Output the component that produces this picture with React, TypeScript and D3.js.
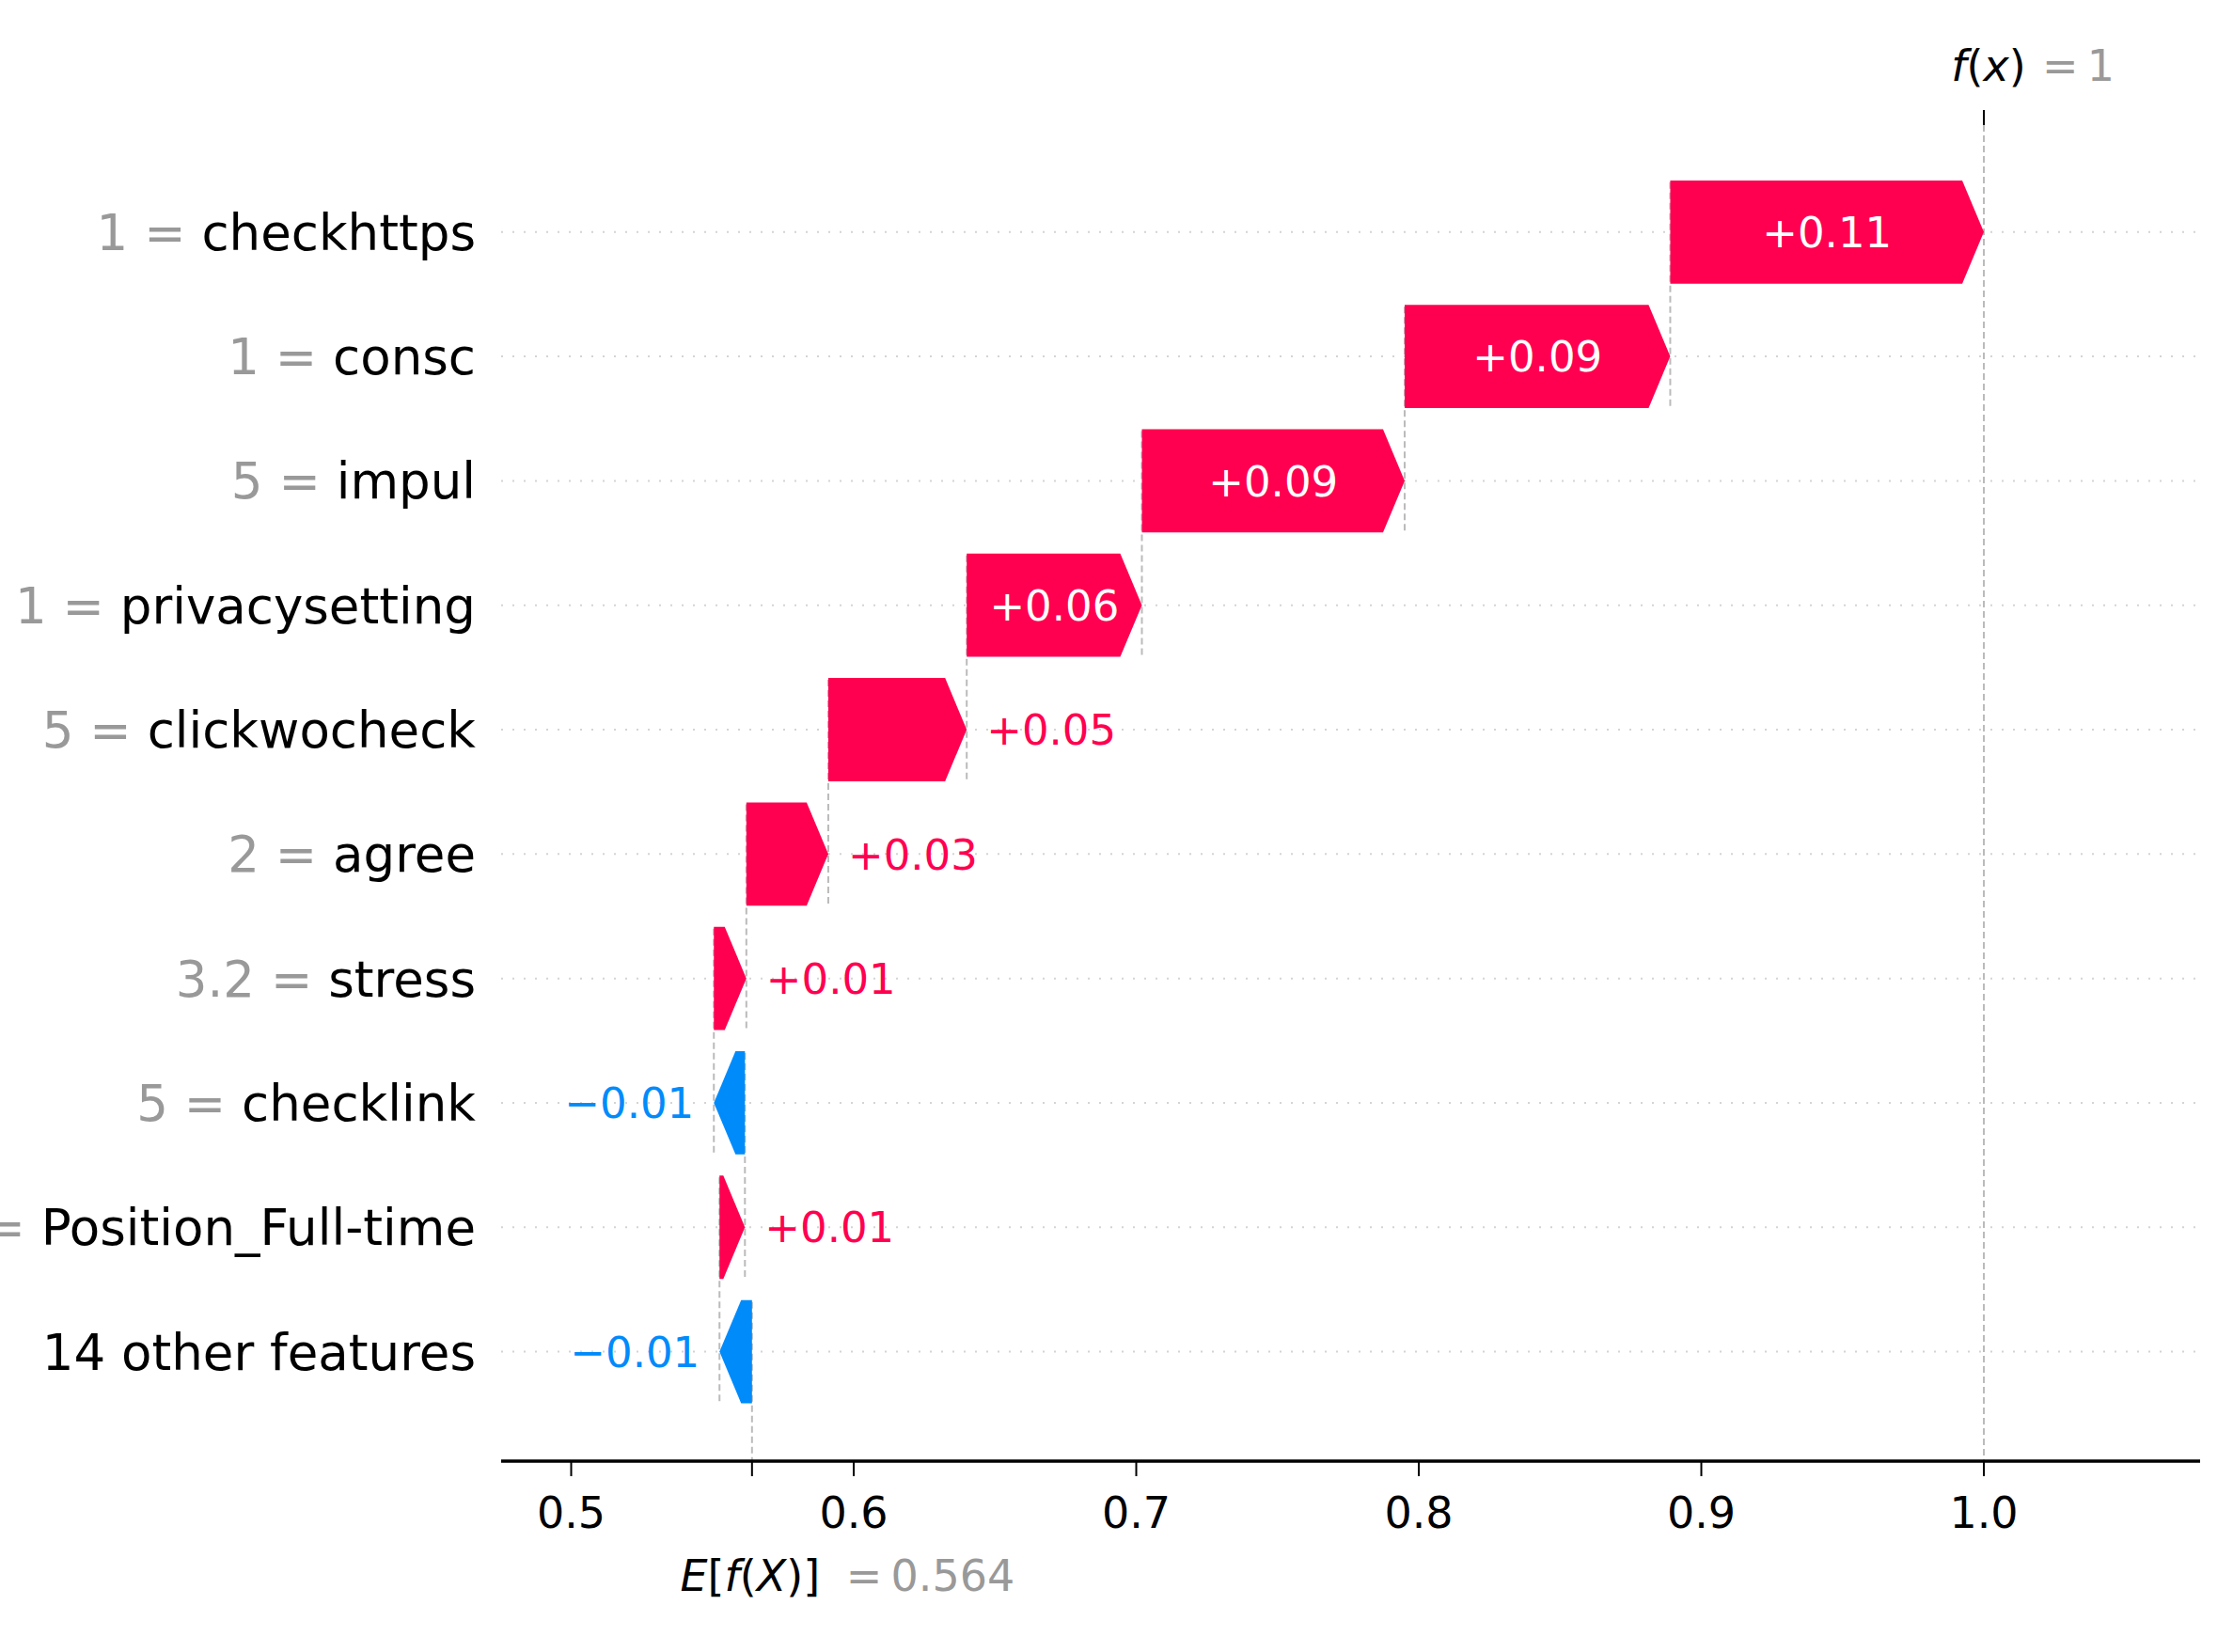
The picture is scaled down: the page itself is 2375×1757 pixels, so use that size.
import React from "react";
import * as d3 from "d3";

// rows from top to bottom
const featureValues = ["1", "1", "5", "1", "5", "2", "3.2", "5", "1", ""];
const featureNames = [
  "checkhttps",
  "consc",
  "impul",
  "privacysetting",
  "clickwocheck",
  "agree",
  "stress",
  "checklink",
  "Position_Full-time",
  "14 other features",
];
const shapValues = [0.111, 0.094, 0.093, 0.062, 0.049, 0.029, 0.0115, -0.011, 0.009, -0.0115];
const baseValue = 0.564;
const xTicks = [0.5, 0.6, 0.7, 0.8, 0.9, 1.0];

const RED = "#ff0051";
const BLUE = "#008bfb";
const FONT = "DejaVu Sans, sans-serif";

const W = 2375;
const H = 1757;

export default function App() {
  const n = featureNames.length;
  // axis spans 533..2340 px, 0.5 -> 607.5, 1.0 -> 2110
  const x = d3.scaleLinear().domain([0.5, 1.0]).range([607.5, 2110]);
  const axisL = 533;
  const axisR = 2340;
  const y = d3.scaleLinear().domain([-0.86, n - 1 + 0.88]).range([133, 1554]);
  const yBottom = y.range()[1];
  const yTop = y.range()[0];
  const rowH = y(1) - y(0);
  const barH = rowH * 0.83;
  const headLen = 23;

  // waterfall: accumulate from the bottom row up
  const starts: number[] = new Array(n);
  const ends: number[] = new Array(n);
  let loc = baseValue;
  for (let i = n - 1; i >= 0; i--) {
    starts[i] = loc;
    ends[i] = loc + shapValues[i];
    loc = ends[i];
  }
  const fx = loc;

  const fmt = (v: number) => (v >= 0 ? "+" : "\u2212") + Math.abs(v).toFixed(2);

  const arrowPath = (i: number) => {
    const a = x(starts[i]);
    const b = x(ends[i]);
    const cy = y(i);
    const top = cy - barH / 2;
    const bot = cy + barH / 2;
    const dir = b >= a ? 1 : -1;
    const hl = Math.min(Math.abs(b - a), headLen);
    const p = d3.path();
    p.moveTo(a, top);
    p.lineTo(b - dir * hl, top);
    p.lineTo(b, cy);
    p.lineTo(b - dir * hl, bot);
    p.lineTo(a, bot);
    p.closePath();
    return p.toString();
  };

  return (
    <svg
      width={W}
      height={H}
      style={{ position: "absolute", left: 0, top: 0, background: "#fff" }}
      fontFamily={FONT}
    >
      <rect width={W} height={H} fill="#fff" />

      {/* horizontal dotted row lines */}
      {featureNames.map((_, i) => (
        <line
          key={"g" + i}
          x1={axisL}
          x2={axisR}
          y1={y(i)}
          y2={y(i)}
          stroke="#d4d4d4"
          strokeWidth={2}
          strokeDasharray="2,10"
        />
      ))}

      {/* dashed connectors */}
      {featureNames.map((_, i) => (
        <line
          key={"c" + i}
          x1={x(starts[i])}
          x2={x(starts[i])}
          y1={y(i - 0.4)}
          y2={i === n - 1 ? yBottom : y(i + 1.4)}
          stroke="#bbbbbb"
          strokeWidth={2}
          strokeDasharray="7,4"
        />
      ))}
      <line
        x1={x(fx)}
        x2={x(fx)}
        y1={yTop}
        y2={yBottom}
        stroke="#bbbbbb"
        strokeWidth={2}
        strokeDasharray="7,4"
      />

      {/* bars */}
      {featureNames.map((_, i) => (
        <path key={"b" + i} d={arrowPath(i)} fill={shapValues[i] >= 0 ? RED : BLUE} />
      ))}

      {/* value labels */}
      {featureNames.map((_, i) => {
        const v = shapValues[i];
        const label = fmt(v);
        const fs = 45;
        const textW = label.length * 0.613 * fs;
        const a = x(starts[i]);
        const b = x(ends[i]);
        const barW = Math.abs(b - a);
        const inside = textW < barW - 20;
        const color = v >= 0 ? RED : BLUE;
        if (inside) {
          return (
            <text
              key={"v" + i}
              x={(a + b) / 2}
              y={y(i)}
              dy="0.36em"
              textAnchor="middle"
              fontSize={fs}
              fill="#fff"
            >
              {label}
            </text>
          );
        }
        return (
          <text
            key={"v" + i}
            x={v >= 0 ? b + 21 : b - 21}
            y={y(i)}
            dy="0.36em"
            textAnchor={v >= 0 ? "start" : "end"}
            fontSize={fs}
            fill={color}
          >
            {label}
          </text>
        );
      })}

      {/* y labels */}
      {featureNames.map((name, i) => (
        <text key={"y" + i} x={506} y={y(i)} dy="0.36em" textAnchor="end" fontSize={53}>
          {featureValues[i] !== "" && <tspan fill="#999999">{featureValues[i] + " = "}</tspan>}
          <tspan fill="#000">{name}</tspan>
        </text>
      ))}

      {/* bottom axis */}
      <line x1={axisL} x2={axisR} y1={yBottom} y2={yBottom} stroke="#000" strokeWidth={3.5} />
      {[...xTicks, baseValue].map((t, i) => (
        <line key={"t" + i} x1={x(t)} x2={x(t)} y1={yBottom} y2={yBottom + 16} stroke="#000" strokeWidth={2} />
      ))}
      {xTicks.map((t, i) => (
        <text key={"tl" + i} x={x(t)} y={1625} textAnchor="middle" fontSize={46} fill="#000">
          {d3.format(".1f")(t)}
        </text>
      ))}

      {/* expected value label */}
      <text x={x(baseValue) - 2} y={1692} textAnchor="middle" fontSize={46} fill="#000">
        <tspan fontStyle="italic">E</tspan>[<tspan fontStyle="italic">f</tspan>(<tspan fontStyle="italic">X</tspan>)]
      </text>
      <text x={x(baseValue) + 100} y={1692} textAnchor="start" fontSize={46} fill="#999999">
        {"=\u2009" + d3.format(".3f")(baseValue)}
      </text>

      {/* top tick and f(x) label */}
      <line x1={x(fx)} x2={x(fx)} y1={yTop} y2={yTop - 16} stroke="#000" strokeWidth={2} />
      <text x={x(fx) + 5} y={86} textAnchor="middle" fontSize={46} fill="#000">
        <tspan fontStyle="italic">f</tspan>(<tspan fontStyle="italic">x</tspan>)
      </text>
      <text x={x(fx) + 62} y={86} textAnchor="start" fontSize={46} fill="#999999">
        {"=\u2009" + d3.format("d")(Math.round(fx))}
      </text>
    </svg>
  );
}
